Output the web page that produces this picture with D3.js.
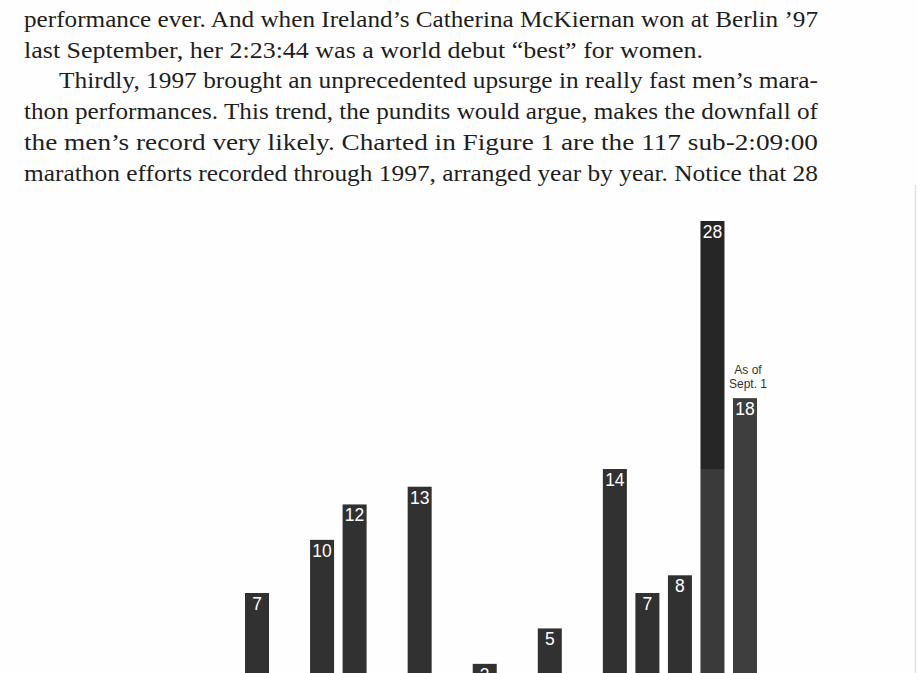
<!DOCTYPE html>
<html>
<head>
<meta charset="utf-8">
<script src="https://cdn.jsdelivr.net/npm/d3@7"></script>
<style>
  html, body { margin: 0; padding: 0; background: #fefefe; }
  svg { display: block; }
</style>
</head>
<body>
<svg id="chart" width="917" height="673"></svg>
<script>
// ---- data ----
const years = [1983, 1984, 1985, 1986, 1987, 1988, 1989, 1990, 1991, 1992, 1993, 1994, 1995, 1996, 1997, 1998];
const counts = [7, 0, 10, 12, 0, 13, 0, 3, 0, 5, 0, 14, 7, 8, 28, 18];
const noteLines = ["As of", "Sept. 1"];
const bodyLines = [
  "performance ever. And when Ireland\u2019s Catherina McKiernan won at Berlin \u201997",
  "last September, her 2:23:44 was a world debut \u201cbest\u201d for women.",
  "Thirdly, 1997 brought an unprecedented upsurge in really fast men\u2019s mara-",
  "thon performances. This trend, the pundits would argue, makes the downfall of",
  "the men\u2019s record very likely. Charted in Figure 1 are the 117 sub-2:09:00",
  "marathon efforts recorded through 1997, arranged year by year. Notice that 28"
];

const svg = d3.select("#chart");

// faint page edge
svg.append("line").attr("x1", 915.5).attr("x2", 915.5).attr("y1", 185).attr("y2", 673)
  .attr("stroke", "#e4e4e4").attr("stroke-width", 1.5);

// ---- body text ----
const lineX = [24, 24, 59, 24, 24, 24];
const lineEnd = [818, 703, 818, 818, 818, 818];
const text = svg.append("g")
  .attr("font-family", "'Liberation Serif', 'Times New Roman', serif")
  .attr("font-size", 23.5)
  .attr("fill", "#1e1e1e");
text.selectAll("text").data(bodyLines).join("text")
  .attr("x", (d, i) => lineX[i])
  .attr("y", (d, i) => 27 + i * 30.7)
  .attr("textLength", (d, i) => lineEnd[i] - lineX[i])
  .attr("lengthAdjust", "spacingAndGlyphs")
  .text(d => d);

// ---- chart ----
const data = years.map((y, i) => ({ year: y, value: counts[i] }));
const x = d3.scaleBand().domain(years).range([245, 757]).paddingInner(0.262).paddingOuter(0);
const y = d3.scaleLinear().domain([0, 28]).range([717, 221]);

const defs = svg.append("defs");
const g28 = defs.append("linearGradient").attr("id", "g28").attr("x1", 0).attr("x2", 0).attr("y1", 0).attr("y2", 1);
g28.append("stop").attr("offset", "0").attr("stop-color", "#262626");
g28.append("stop").attr("offset", "0.5").attr("stop-color", "#262626");
g28.append("stop").attr("offset", "0.5").attr("stop-color", "#3a3a3a");
g28.append("stop").attr("offset", "1").attr("stop-color", "#3a3a3a");

const fillFor = d => d.year === 1997 ? "url(#g28)" : (d.year === 1998 ? "#3e3e3e" : "#313131");

const bars = data.filter(d => d.value > 0);
svg.append("g").selectAll("rect").data(bars).join("rect")
  .attr("x", d => x(d.year))
  .attr("y", d => y(d.value))
  .attr("width", x.bandwidth())
  .attr("height", d => y(0) - y(d.value))
  .attr("fill", fillFor);

svg.append("g")
  .attr("font-family", "'Liberation Sans', Arial, sans-serif")
  .attr("font-size", 17.5)
  .attr("fill", "#ffffff")
  .attr("text-anchor", "middle")
  .selectAll("text").data(bars).join("text")
  .attr("x", d => x(d.year) + x.bandwidth() / 2)
  .attr("y", d => y(d.value) + 17)
  .text(d => d.value);

// annotation over the last bar
const last = data[data.length - 1];
svg.append("g")
  .attr("font-family", "'Liberation Sans', Arial, sans-serif")
  .attr("font-size", 12)
  .attr("fill", "#333")
  .attr("text-anchor", "middle")
  .selectAll("text").data(noteLines).join("text")
  .attr("x", x(last.year) + x.bandwidth() / 2 + 3)
  .attr("y", (d, i) => y(last.value) - 24 + i * 14)
  .text(d => d);
</script>
</body>
</html>
